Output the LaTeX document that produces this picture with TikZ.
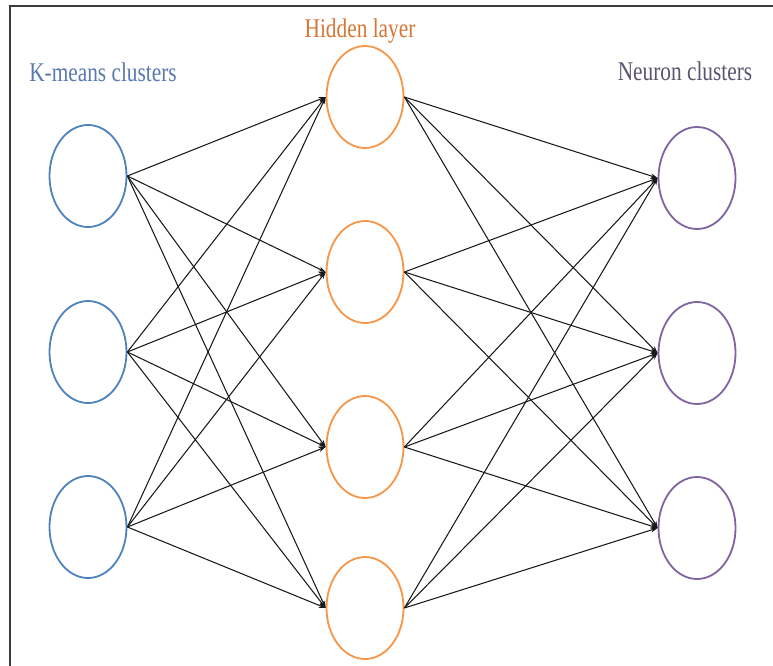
\documentclass[tikz,border=0pt]{standalone}
\usepackage{fontspec}
\setmainfont{Liberation Serif}
\usetikzlibrary{shapes.geometric,arrows.meta}
\definecolor{kblue}{RGB}{79,129,189}
\definecolor{horange}{RGB}{247,150,70}
\definecolor{npurple}{RGB}{128,100,162}
\definecolor{ktext}{RGB}{88,122,176}
\definecolor{htext}{RGB}{214,118,52}
\definecolor{ntext}{RGB}{92,84,112}
\definecolor{framegray}{RGB}{60,60,60}
\tikzset{
  neuron/.style={ellipse, minimum width=77pt, minimum height=102pt, inner sep=0pt, line width=1.8pt, fill=white},
  kn/.style={neuron, draw=kblue},
  hn/.style={neuron, draw=horange},
  nn/.style={neuron, draw=npurple},
  link/.style={line width=1.05pt, black!90, -{Stealth[length=7pt,width=5pt]}},
  lbl/.style={anchor=base, inner sep=0pt, font=\fontsize{27}{30}\selectfont},
}
\newcommand{\squeeze}[1]{\scalebox{0.79}[1]{#1}}
\begin{document}
\begin{tikzpicture}[x=1pt,y=-1pt]
\useasboundingbox[fill=white] (0,0) rectangle (773,666);
\draw[framegray, line width=1.2pt] (10,666) -- (10,6) -- (773,6);

\node[kn] (l1) at (88,176) {};
\node[kn] (l2) at (88,352) {};
\node[kn] (l3) at (88,527) {};

\node[hn] (h1) at (365,97) {};
\node[hn] (h2) at (365,272) {};
\node[hn] (h3) at (365,447) {};
\node[hn] (h4) at (365,608) {};

\node[nn] (r1) at (697,178) {};
\node[nn] (r2) at (697,353) {};
\node[nn] (r3) at (697,528) {};

\node[lbl, text=ktext] (tk) at (103,82) {\squeeze{K-means clusters}};
\node[lbl, text=htext] (th) at (360,38) {\squeeze{Hidden layer}};
\node[lbl, text=ntext] (tn) at (685,81) {\squeeze{Neuron clusters}};

\foreach \a in {l1,l2,l3}
  \foreach \b in {h1,h2,h3,h4}
    \draw[link] (\a.east) -- (\b.west);
\foreach \a in {h1,h2,h3,h4}
  \foreach \b in {r1,r2,r3}
    \draw[link] (\a.east) -- (\b.west);
\end{tikzpicture}
\end{document}
